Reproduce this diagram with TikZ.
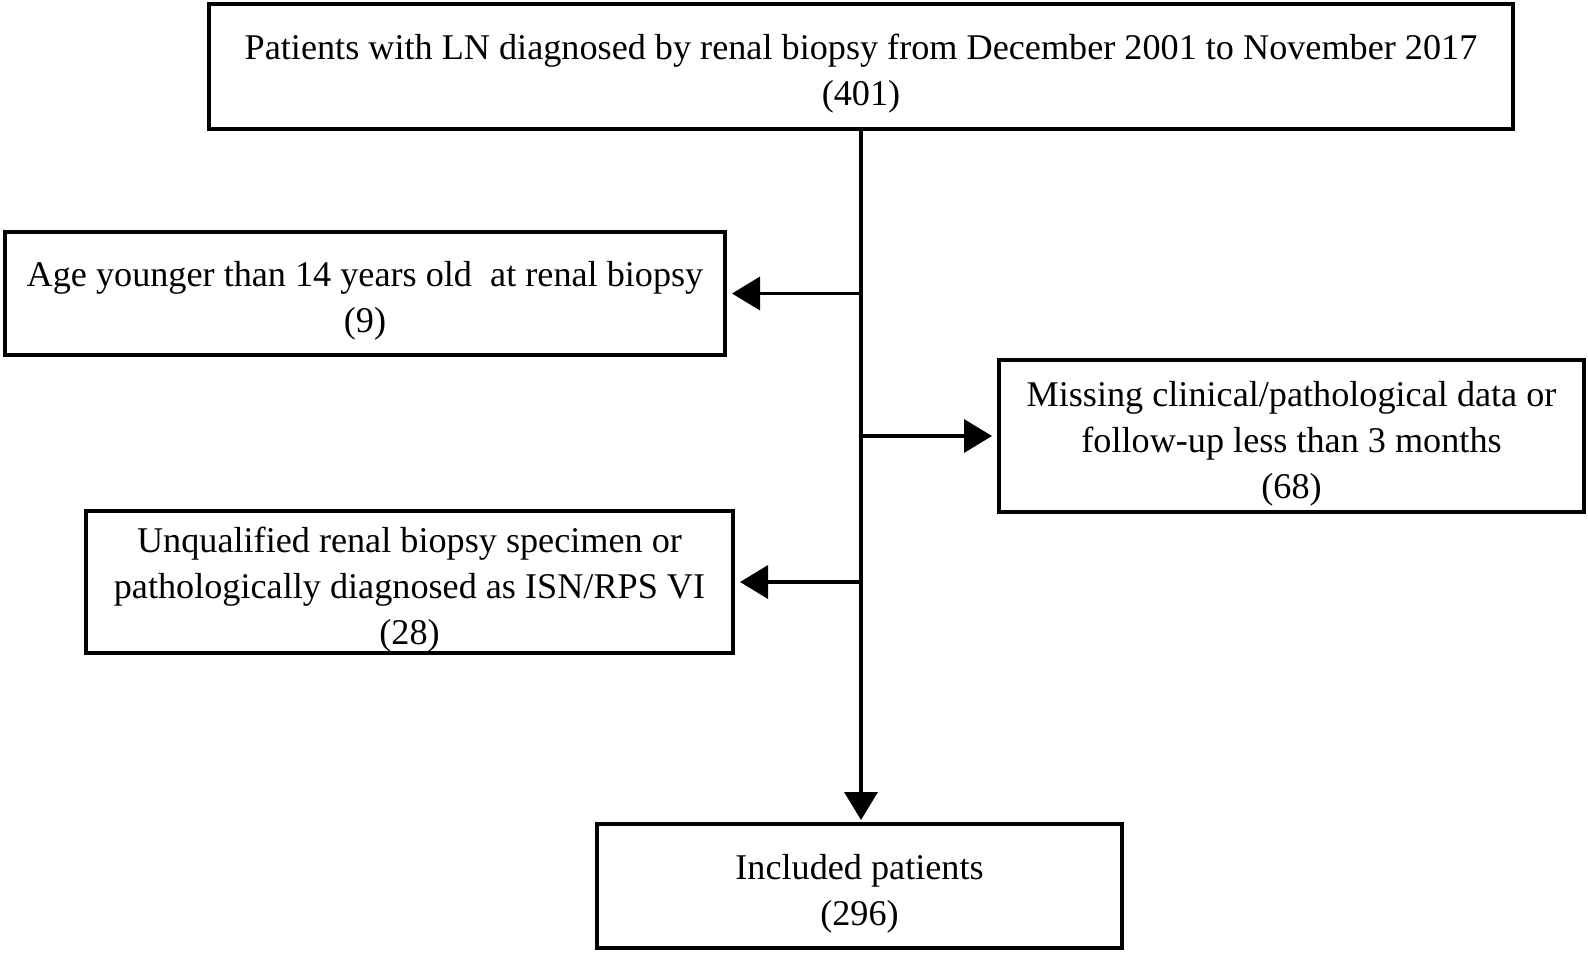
\documentclass[tikz,border=0pt]{standalone}
\usepackage{fontspec}
\setmainfont{Liberation Serif}
\usetikzlibrary{arrows.meta}
\newcommand{\boxstrut}{\rule{0pt}{20pt}}

\begin{document}
\begin{tikzpicture}[x=0.5pt, y=-0.5pt,
    box/.style={draw, line width=2pt, inner sep=0pt, align=center,
      font=\fontsize{18.1}{23}\selectfont},
    flow/.style={line width=1.8pt, -{Triangle[length=14pt,width=16.5pt]}}]
  \useasboundingbox (0,0) rectangle (1588,954);
  % boxes, sizes in pixels
  \node[box, minimum width=652pt, minimum height=62.5pt] (all) at (861,66.5)
    {\boxstrut Patients with LN diagnosed by renal biopsy from December 2001 to November 2017\\(401)};
  \node[box, minimum width=360pt, minimum height=61.5pt] (young) at (365,293.5)
    {\boxstrut Age younger than 14 years old\ \ at renal biopsy\\(9)};
  \node[box, minimum width=292.5pt, minimum height=76pt] (missing) at (1291.5,436)
    {\boxstrut Missing clinical/pathological data or\\follow-up less than 3 months\\(68)};
  \node[box, minimum width=323.5pt, minimum height=71pt] (unqual) at (409.5,582)
    {\boxstrut Unqualified renal biopsy specimen or\\pathologically diagnosed as ISN/RPS VI\\(28)};
  \node[box, minimum width=262.5pt, minimum height=62pt] (incl) at (859.5,886)
    {\boxstrut Included patients\\(296)};
  % trunk and side branches
  \draw[flow, shorten >=1pt] (all.south -| 861,0) -- (incl.north -| 861,0);
  \draw[flow, shorten >=2.5pt] (all.south |- young.east) -- (young.east);
  \draw[flow, shorten >=2.5pt] (all.south |- missing.west) -- (missing.west);
  \draw[flow, shorten >=2.5pt] (all.south |- unqual.east) -- (unqual.east);
\end{tikzpicture}
\end{document}
